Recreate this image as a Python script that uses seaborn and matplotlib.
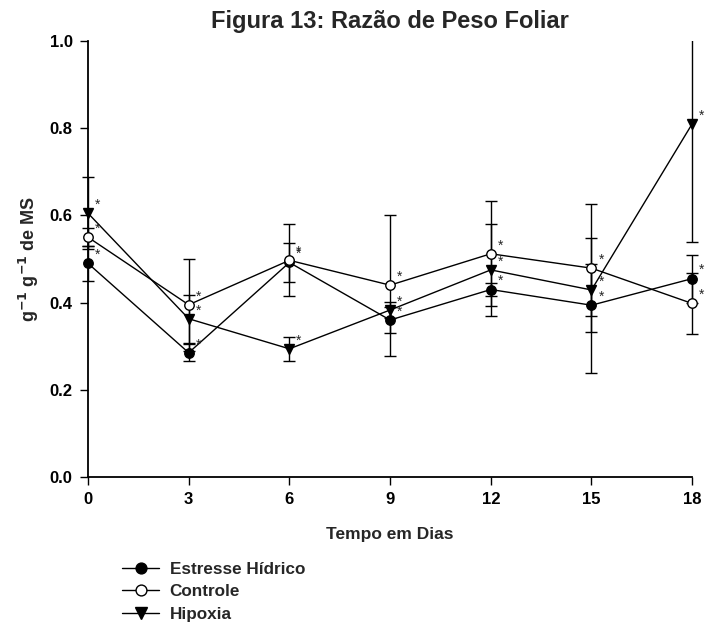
import numpy as np
import pandas as pd
import matplotlib
matplotlib.use("Agg")
import matplotlib.pyplot as plt
from matplotlib.transforms import Bbox, TransformedBbox
import seaborn as sns

# Data
dias = [0, 3, 6, 9, 12, 15, 18]
estresse = [0.490, 0.285, 0.492, 0.360, 0.430, 0.394, 0.455]
estresse_err = [0.040, 0.020, 0.045, 0.030, 0.015, 0.155, 0.055]
controle = [0.550, 0.395, 0.497, 0.440, 0.512, 0.479, 0.398]
controle_err = [0.020, 0.105, 0.083, 0.162, 0.120, 0.147, 0.070]
hipoxia = [0.605, 0.363, 0.294, 0.383, 0.475, 0.429, 0.810]
hipoxia_err = [0.083, 0.055, 0.028, 0.018, 0.105, 0.060, 0.270]

series = ["Estresse Hídrico", "Controle", "Hipoxia"]

df = pd.DataFrame({
    "dia": dias * 3,
    "valor": estresse + controle + hipoxia,
    "erro": estresse_err + controle_err + hipoxia_err,
    "grupo": np.repeat(series, len(dias)),
})

sns.set_style("ticks")
plt.rcParams["font.family"] = ["Liberation Sans", "DejaVu Sans"]
plt.rcParams["font.weight"] = "bold"

fig = plt.figure(figsize=(7.05, 6.22), dpi=100)
ax = fig.add_axes([0.1248, 0.2331, 0.857, 0.701])

estilos = {
    "Estresse Hídrico": dict(marker="o", mfc="black", ms=6.8),
    "Controle": dict(marker="o", mfc="white", ms=6.8),
    "Hipoxia": dict(marker="v", mfc="black", ms=7.5),
}

# error bars clipped only at the top/bottom of the plot, not at the sides
ax.set_xlim(0, 18)
ax.set_ylim(0, 1.0)
clip = TransformedBbox(Bbox([[-1, 0], [19, 1.0]]), ax.transData)
for nome in series:
    sub = df[df["grupo"] == nome]
    cont = ax.errorbar(sub["dia"], sub["valor"], yerr=sub["erro"], fmt="none",
                       ecolor="black", elinewidth=1.0, capsize=4.5,
                       capthick=1.0, zorder=2)
    for art in cont.get_children():
        art.set_clip_box(clip)

sns.lineplot(data=df, x="dia", y="valor", hue="grupo", style="grupo",
             palette=["black"] * 3, markers=["o", "o", "v"], dashes=False,
             linewidth=1.0, markersize=7, markeredgecolor="black",
             legend=False, ax=ax, zorder=3)

# marker faces and sizes per series
for line, nome in zip(ax.get_lines()[-3:], series):
    line.set_markerfacecolor(estilos[nome]["mfc"])
    line.set_markersize(estilos[nome]["ms"])
    line.set_markeredgewidth(1.0)
    line.set_clip_on(False)

# asterisks beside each point
for _, row in df.iterrows():
    ax.annotate("*", (row["dia"], row["valor"]), xytext=(5, 1),
                textcoords="offset points", fontsize=10, fontweight="normal",
                ha="left", va="bottom")

ax.set_xticks(dias)
ax.set_yticks([0.0, 0.2, 0.4, 0.6, 0.8, 1.0])
ax.set_yticklabels([f"{v:.1f}" for v in [0.0, 0.2, 0.4, 0.6, 0.8, 1.0]])
ax.tick_params(axis="both", direction="out", length=6, width=1.0,
               labelsize=12, pad=5, colors="black")
for s in ["left", "bottom"]:
    ax.spines[s].set_linewidth(1.3)
    ax.spines[s].set_color("black")
sns.despine(ax=ax)

ax.set_xlabel("Tempo em Dias", fontsize=12.5, fontweight="bold", labelpad=14)
ax.set_ylabel("g$^{\\mathbf{-1}}$ g$^{\\mathbf{-1}}$ de MS", fontsize=13,
              fontweight="bold", labelpad=6)
ax.set_title("Figura 13: Razão de Peso Foliar", fontsize=17,
             fontweight="bold", pad=9)

handles = []
for nome in series:
    h, = ax.plot([], [], color="black", lw=1.0, marker=estilos[nome]["marker"],
                 mfc=estilos[nome]["mfc"], mec="black",
                 markersize=estilos[nome]["ms"] + 1)
    handles.append(h)
fig.legend(handles, series, loc="upper left", bbox_to_anchor=(0.163, 0.107),
           frameon=False, handlelength=2.2, handletextpad=0.6,
           labelspacing=0.42, borderaxespad=0,
           prop={"weight": "bold", "size": 12.3})

fig.savefig("out.png", dpi=100)
